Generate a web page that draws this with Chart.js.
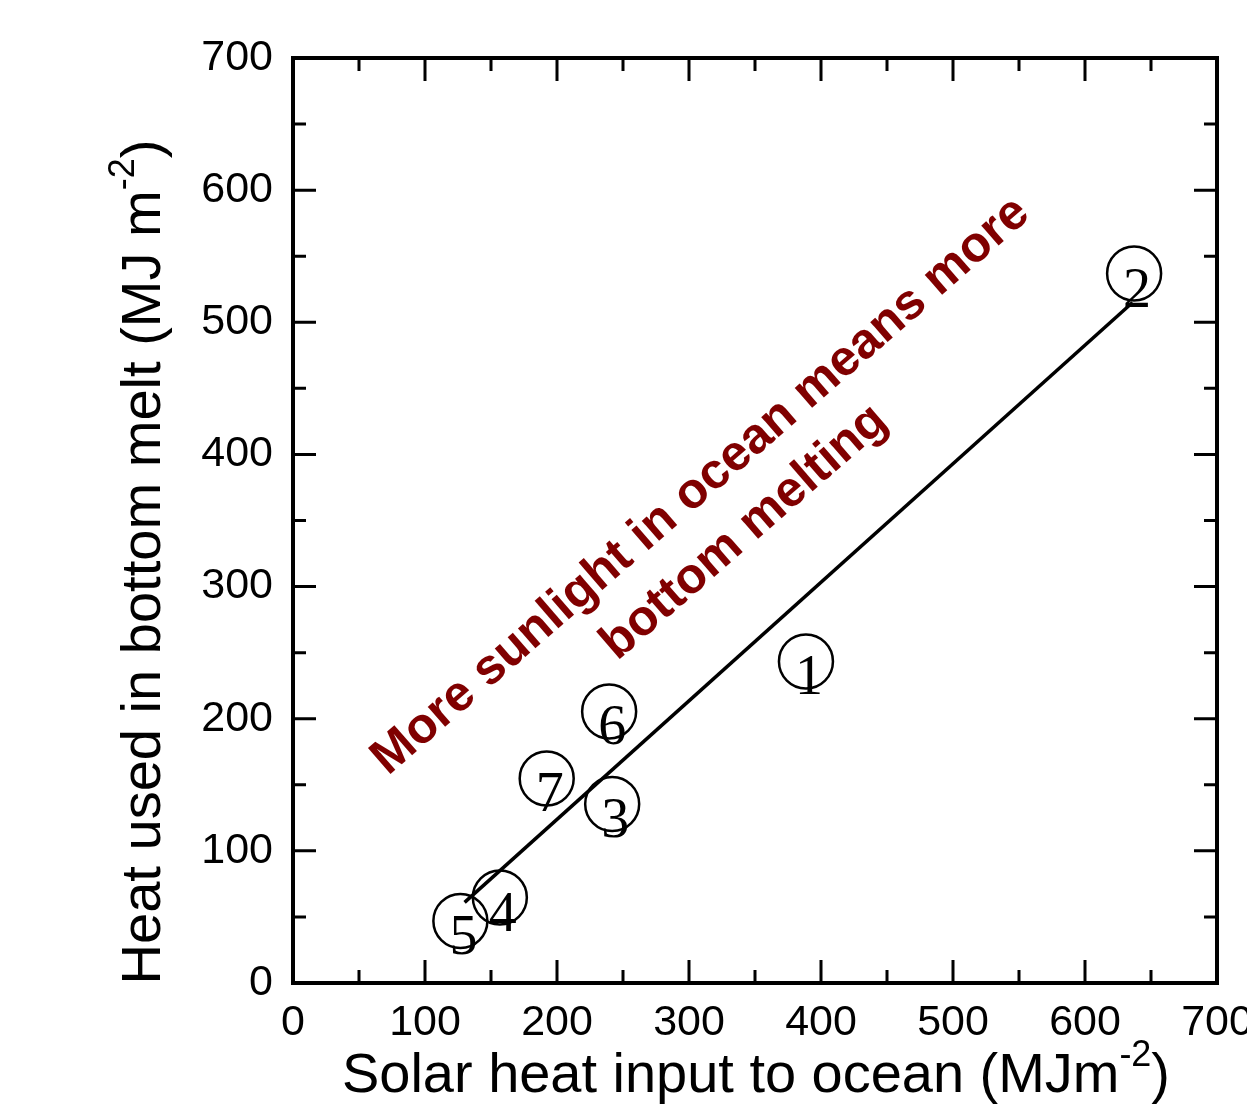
<!DOCTYPE html>
<html>
<head>
<meta charset="utf-8">
<script src="https://cdn.jsdelivr.net/npm/chart.js@4.4.1/dist/chart.umd.min.js"></script>
<style>
  body { margin: 0; background: #fff; }
  canvas { display: block; }
</style>
</head>
<body>
<canvas id="melt-chart" width="1247" height="1107"></canvas>
<script>
// data
const siteLabels = ['1', '2', '3', '4', '5', '6', '7'];
const solarInput = [388.6, 637.2, 241.8, 156.7, 126.8, 239.5, 192.2];
const bottomMelt = [243.3, 536.9, 135.5, 64.7, 46.9, 205.5, 154.8];
const fitX = [130, 636];
const fitY = [61, 515];
const axisTicks = [0, 100, 200, 300, 400, 500, 600, 700];
const noteLines = ['More sunlight in ocean means more', 'bottom melting'];
const noteAnchorX = [309, 342];
const noteAnchorY = [376, 341];

const points = solarInput.map((x, i) => ({ x: x, y: bottomMelt[i] }));
const fitLine = fitX.map((x, i) => ({ x: x, y: fitY[i] }));

// inner ticks on all four sides + box
const frame = {
    id: 'frame',
    afterDraw(chart) {
        const ctx = chart.ctx;
        const a = chart.chartArea;
        const xs = chart.scales.x, ys = chart.scales.y;
        ctx.save();
        ctx.strokeStyle = '#000';
        ctx.lineWidth = 3;
        ctx.beginPath();
        for (let v = 50; v < 700; v += 50) {
            const len = v % 100 === 0 ? 23 : 13;
            const px = xs.getPixelForValue(v);
            ctx.moveTo(px, a.bottom); ctx.lineTo(px, a.bottom - len);
            ctx.moveTo(px, a.top); ctx.lineTo(px, a.top + len);
            const py = ys.getPixelForValue(v);
            ctx.moveTo(a.left, py); ctx.lineTo(a.left + len, py);
            ctx.moveTo(a.right, py); ctx.lineTo(a.right - len, py);
        }
        ctx.stroke();
        ctx.lineWidth = 4;
        ctx.strokeRect(a.left, a.top, a.right - a.left, a.bottom - a.top);
        ctx.restore();
    }
};

// numbers inside the circles
const siteNumbers = {
    id: 'siteNumbers',
    afterDatasetsDraw(chart) {
        const ctx = chart.ctx;
        const meta = chart.getDatasetMeta(0);
        ctx.save();
        ctx.fillStyle = '#000';
        ctx.font = '56px "Liberation Serif", "Times New Roman", serif';
        ctx.textAlign = 'center';
        ctx.textBaseline = 'alphabetic';
        meta.data.forEach((pt, i) => {
            ctx.fillText(siteLabels[i], pt.x + 3, pt.y + 33);
        });
        ctx.restore();
    }
};

// rotated red note
const note = {
    id: 'note',
    afterDraw(chart) {
        const ctx = chart.ctx;
        const xs = chart.scales.x, ys = chart.scales.y;
        ctx.save();
        ctx.fillStyle = '#800000';
        ctx.font = 'bold 50px "Liberation Sans", Arial, sans-serif';
        ctx.textAlign = 'center';
        ctx.textBaseline = 'middle';
        noteLines.forEach((t, i) => {
            ctx.save();
            ctx.translate(xs.getPixelForValue(noteAnchorX[i]), ys.getPixelForValue(noteAnchorY[i]));
            ctx.rotate(-41 * Math.PI / 180);
            ctx.fillText(t, 0, 0);
            ctx.restore();
        });
        ctx.restore();
    }
};

// condensed axis titles with superscript
function drawTitle(ctx, parts, cx, baseY, targetLen) {
    const big = '56px "Liberation Sans", Arial, sans-serif';
    const small = '36px "Liberation Sans", Arial, sans-serif';
    let w = 0;
    parts.forEach(p => { ctx.font = p.sup ? small : big; w += ctx.measureText(p.t).width; });
    const sx = targetLen / w;
    ctx.save();
    ctx.translate(cx - targetLen / 2, baseY);
    ctx.scale(sx, 1);
    let x = 0;
    parts.forEach(p => {
        ctx.font = p.sup ? small : big;
        ctx.fillText(p.t, x, p.sup ? -26 : 0);
        x += ctx.measureText(p.t).width;
    });
    ctx.restore();
}

const titles = {
    id: 'titles',
    afterDraw(chart) {
        const ctx = chart.ctx;
        ctx.save();
        ctx.fillStyle = '#000';
        ctx.textBaseline = 'alphabetic';
        ctx.textAlign = 'left';
        drawTitle(ctx, [{ t: 'Solar heat input to ocean (MJm' }, { t: '-2', sup: true }, { t: ')' }], 756, 1092, 828);
        ctx.translate(160, 562);
        ctx.rotate(-Math.PI / 2);
        drawTitle(ctx, [{ t: 'Heat used in bottom melt (MJ m' }, { t: '-2', sup: true }, { t: ')' }], 0, 0, 845);
        ctx.restore();
    }
};

new Chart(document.getElementById('melt-chart'), {
    type: 'scatter',
    data: {
        datasets: [{
            data: points,
            pointStyle: 'circle',
            pointRadius: 27,
            pointHoverRadius: 27,
            pointBorderWidth: 2.5,
            pointBorderColor: '#000',
            pointBackgroundColor: 'rgba(0,0,0,0)'
        }, {
            data: fitLine,
            showLine: true,
            borderColor: '#000',
            borderWidth: 3.5,
            pointRadius: 0
        }]
    },
    options: {
        responsive: false,
        devicePixelRatio: 1,
        animation: false,
        layout: { padding: { top: 58, right: 30, bottom: 0, left: 0 } },
        plugins: {
            legend: { display: false },
            tooltip: { enabled: false }
        },
        scales: {
            x: {
                type: 'linear',
                min: 0,
                max: 700,
                afterBuildTicks(s) { s.ticks = axisTicks.map(v => ({ value: v })); },
                afterFit(s) { s.paddingLeft = 0; s.paddingRight = 0; s.height = 124; },
                grid: { display: false, drawTicks: false },
                border: { display: false },
                ticks: {
                    padding: 14,
                    color: '#000',
                    maxRotation: 0,
                    font: { family: '"Liberation Sans", Arial, sans-serif', size: 43 }
                }
            },
            y: {
                type: 'linear',
                min: 0,
                max: 700,
                afterBuildTicks(s) { s.ticks = axisTicks.map(v => ({ value: v })); },
                afterFit(s) { s.paddingTop = 0; s.paddingBottom = 0; s.width = 293; },
                grid: { display: false, drawTicks: false },
                border: { display: false },
                ticks: {
                    padding: 20,
                    color: '#000',
                    font: { family: '"Liberation Sans", Arial, sans-serif', size: 43 }
                }
            }
        }
    },
    plugins: [frame, siteNumbers, note, titles]
});
</script>
</body>
</html>
